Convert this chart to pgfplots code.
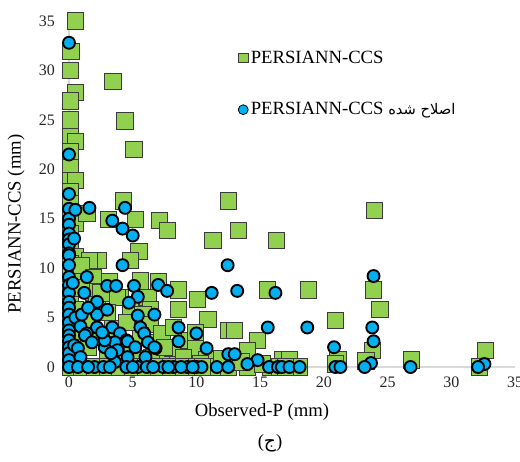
\documentclass[border=0pt]{standalone}
\usepackage{fontspec}
\setmainfont{Liberation Serif}
\newfontfamily\arabicfont[Script=Arabic]{DejaVu Sans}
\TeXXeTstate=1
\usepackage{pgfplots}
\pgfplotsset{compat=1.18}

\definecolor{sqgreen}{HTML}{92D050}
\definecolor{sqedge}{HTML}{3B3B3B}
\definecolor{cblue}{HTML}{00B0F0}
\definecolor{axgray}{HTML}{D9D9D9}

\pgfplotsset{dotlegend/.style={legend image code/.code={\draw[##1] plot coordinates {(0.18cm,0cm)};}}}

\begin{document}
\begin{tikzpicture}
\begin{axis}[
  scale only axis, width=334.5pt, height=259.5pt,
  xmin=0, xmax=35, ymin=0, ymax=35,
  xtick={0,5,...,35}, ytick={0,5,...,35},
  xticklabels={0,5,10,15,20,25,30,35},
  yticklabels={0,5,10,15,20,25,30,35},
  clip=false,
  axis lines*=left,
  axis line style={draw=axgray, line width=0.8pt, -},
  major tick length=0pt,
  tick label style={font=\rmfamily\fontsize{12}{14}\selectfont, text=black!85},
  xticklabel style={yshift=-4pt},
  yticklabel style={xshift=-7pt},
  xlabel={Observed-P (mm)}, ylabel={PERSIANN-CCS (mm)},
  label style={font=\rmfamily\fontsize{14}{16}\selectfont},
  xlabel style={at={(axis description cs:0.4327,-0.130)}, anchor=center},
  ylabel style={at={(axis description cs:-0.1188,0.413)}, anchor=center, rotate=0},
  legend style={at={(0.37,0.93)}, anchor=north west, draw=none, fill=none,
    font=\rmfamily\fontsize{14}{16}\selectfont, row sep=24pt},
  legend cell align=left,
]
% PERSIANN-CCS
\addplot[forget plot, only marks, mark=square*, mark size=6.1pt,
  mark options={fill=sqgreen, draw=sqedge, line width=0.7pt}] coordinates {
(0.5,35.0) (0.15,31.9) (0.1,30.0) (0.5,27.8) (0.1,26.9) (0.1,25.0) (0.1,23.3) (0.5,22.8)
(0.1,21.8) (0.1,20.2) (0.1,18.9) (0.5,18.9) (0.1,17.7) (0.1,16.5) (0.1,15.3) (0.5,14.5)
(0.1,13.5) (0.1,12.3) (0.5,11.2) (0.1,10.5) (0.1,9.5) (0.5,8.6) (0.1,7.5) (0.1,6.5)
(0.5,5.8) (0.1,4.8) (0.1,3.8) (0.5,2.9) (0.1,2.0) (0.1,1.0) (0.5,0.4) (0.1,0)
(3.45,28.9) (4.4,24.9) (5.1,22.0) (4.25,16.8) (12.5,16.8) (1.4,15.5)
(3.1,14.9) (5.2,14.9) (7.1,14.8) (7.7,13.8) (11.3,12.8) (13.3,13.8) (16.3,12.8) (24.0,15.8)
(5.5,11.7) (4.8,10.8) (2.3,10.8) (1.6,10.8) (1.0,10.3)
(1.9,9.0) (3.2,8.6) (5.6,8.7) (7.0,8.6) (8.6,7.8) (10.1,6.8) (8.6,5.8) (10.9,4.8)
(12.5,3.7) (13.0,3.7) (14.8,2.7) (14.0,1.7) (15.6,7.8) (18.8,7.8) (23.9,7.8) (24.4,5.8)
(20.9,4.7) (23.8,1.7) (16.8,0.7) (17.3,0.7) (21.1,0.7) (20.9,0.3) (26.9,0.7) (32.7,1.7)
(32.2,0) (18.1,0) (15.8,0) (14.0,0) (23.3,0.6)
(6.2,7.0) (6.4,5.8) (4.0,7.0) (4.8,6.1) (5.8,5.3) (6.4,4.3) (5.6,3.2) (6.9,2.5)
(7.7,0.9) (5.8,0.9) (1.9,7.6) (2.2,6.3) (3.4,3.9) (8.9,2.7) (9.9,2.0) (10.8,0.7)
(8.1,1.9) (7.3,3.4) (9.5,0) (8.5,0.2) (3.8,7.0) (1.0,8.0) (2.5,7.5) (3.0,5.5)
(1.5,4.5) (2.5,3.0) (4.2,2.0) (3.0,1.0) (1.5,2.0) (4.5,4.5) (5.0,1.5) (6.5,1.0)
(7.5,2.0) (9.0,1.0) (10.3,0.3) (11.5,0) (12.5,0) (12.0,0.8) (13.5,0.5)
(1.0,0) (2.0,0) (3.0,0) (4.0,0) (5.0,0) (6.0,0) (7.0,0) (8.0,0) (9.0,0) (10.0,0) (10.5,0)
(15.2,0.3) (16.5,0) (17.0,0) (8.2,4.0) (9.9,3.5)
};
% PERSIANN-CCS corrected
\addplot[forget plot, only marks, mark=*, mark size=4.5pt,
  mark options={fill=cblue, draw=black, line width=1.4pt}] coordinates {
(0,32.8) (0,21.5) (0,17.5) (0,16.0) (0,15.0) (0,14.4) (0,13.5) (0,12.9) (0,12.4)
(0,11.5) (0,11.3) (0,10.3) (0,9.1) (0,8.3) (0,7.5) (0,6.6) (0,6.0) (0,5.3) (0,4.5)
(0,3.7) (0,3.2) (0,2.7) (0,2.0) (0,1.4) (0,0.7) (0,0)
(0.5,15.9) (0.4,13.0) (0.3,8.5) (0.5,5.0) (0.4,2.2)
(1.6,16.1) (4.4,16.1) (3.4,14.8) (4.2,14.0) (5.0,13.3) (4.2,10.3) (12.45,10.3)
(1.4,9.1) (3.0,8.2) (3.7,8.2) (5.1,8.2) (7.0,8.3) (7.7,7.7) (11.2,7.5) (13.2,7.7)
(16.2,7.5) (23.9,9.2) (5.4,7.1) (4.7,6.5) (2.2,6.6) (1.0,5.3) (2.2,5.3) (5.4,5.2)
(6.7,5.3) (0.9,4.1) (2.2,4.0) (3.4,4.0) (5.6,4.0) (4.0,3.4) (5.9,3.4) (8.6,4.0)
(10.0,3.4) (15.6,4.0) (18.7,4.0) (23.8,4.0) (23.9,2.6) (20.8,2.0) (1.4,3.4) (1.25,3.2)
(4.5,2.7) (6.2,2.5) (8.6,2.6) (4.6,2.6) (2.8,2.0) (6.8,1.9) (10.8,1.9) (1.8,2.5)
(3.6,2.5) (2.8,2.7) (3.8,1.7) (0.7,1.9) (0.9,1.0) (4.6,1.0) (6.0,1.0) (6.7,2.0)
(12.5,1.3) (13.0,1.3) (14.8,0.7) (3.6,0.5) (14.0,0.3) (23.7,0.4) (32.6,0.3)
(1.5,6.0) (3.0,5.8) (2.6,3.5) (3.3,1.4) (5.2,2.0) (1.2,7.5)
(0.7,0) (2.0,0) (2.7,0) (4.5,0) (5.4,0) (6.1,0) (7.4,0) (8.2,0) (9.3,0) (10.0,0)
(10.4,0) (11.6,0) (12.5,0) (15.7,0) (16.4,0) (16.7,0) (17.3,0) (18.1,0) (20.9,0)
(21.3,0) (23.2,0) (26.8,0) (32.1,0) (1.5,0) (3.2,0) (5.0,0) (6.6,0) (7.8,0) (8.8,0) (9.7,0)
};
\addlegendimage{only marks, mark=square*, mark size=3.6pt,
  mark options={fill=sqgreen, draw=sqedge, line width=0.6pt}, dotlegend}
\addlegendentry{PERSIANN-CCS}
\addlegendimage{only marks, mark=*, mark size=3.7pt,
  mark options={fill=cblue, draw=black, line width=0.6pt}, dotlegend}
\addlegendentry{PERSIANN-CCS {\arabicfont\fontsize{11}{13}\selectfont\beginR اصلاح شده\endR}}
\end{axis}
\node[font=\rmfamily\fontsize{14}{16}\selectfont] at (150.75pt,-57pt) {({\arabicfont ج})};
\pgfresetboundingbox
\path (-51.75pt,-70.5pt) rectangle (338.25pt,275.25pt);
\end{tikzpicture}
\end{document}
